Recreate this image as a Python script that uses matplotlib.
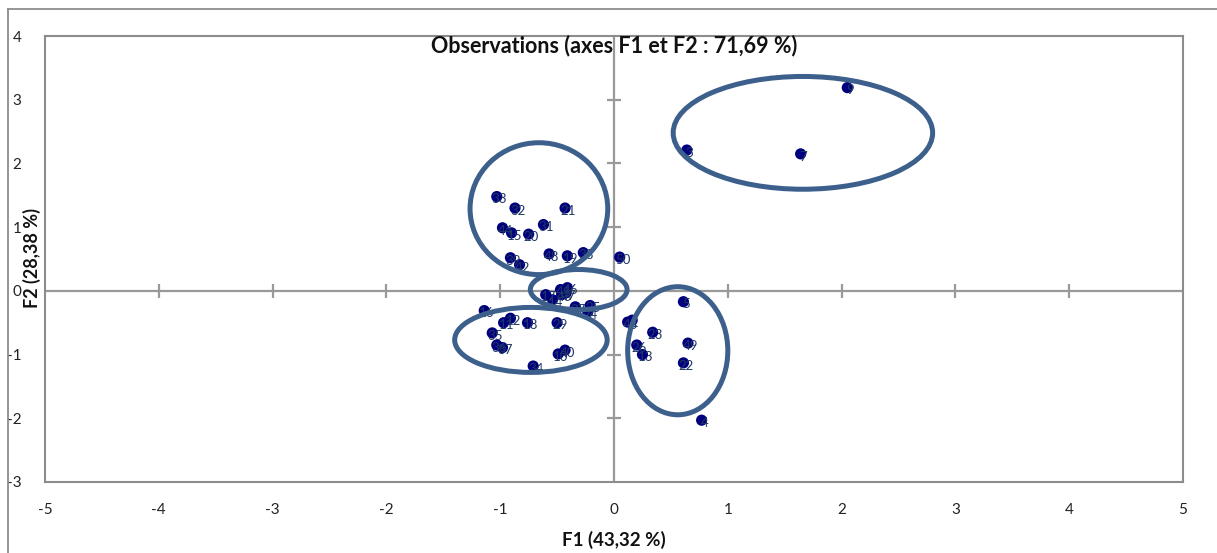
import matplotlib
matplotlib.use("Agg")
import matplotlib.pyplot as plt
from matplotlib.patches import Ellipse
from matplotlib.lines import Line2D

plt.rcParams['font.family'] = ['Lato', 'DejaVu Sans']

# ---- data ----
obs_x = [2.05, 0.64, 1.64,
         -1.03, -0.87, -0.43, -0.62, -0.98, -0.90, -0.75, -0.91, -0.83, -0.57, -0.41, -0.27, 0.05,
         -0.47, -0.41, -0.42, -0.46, -0.60, -0.54, -0.34, -0.21, -0.23,
         -1.14, -0.97, -0.91, -0.76, -0.50, -1.07, -1.03, -0.98, -0.49, -0.43, -0.71,
         0.61, 0.12, 0.16, 0.34, 0.65, 0.20, 0.25, 0.61, 0.77]
obs_y = [3.19, 2.21, 2.15,
         1.48, 1.30, 1.30, 1.04, 0.99, 0.91, 0.89, 0.52, 0.41, 0.58, 0.55, 0.60, 0.53,
         0.02, 0.05, -0.03, -0.06, -0.06, -0.14, -0.25, -0.23, -0.33,
         -0.31, -0.50, -0.43, -0.50, -0.50, -0.66, -0.85, -0.89, -0.99, -0.93, -1.18,
         -0.17, -0.49, -0.46, -0.65, -0.82, -0.85, -1.00, -1.13, -2.03]
obs_labels = ["9", "3", "7",
              "33", "32", "21", "31", "44", "15", "20", "39", "42", "48", "19", "38", "50",
              "41", "46", "47", "43", "17", "14", "27", "25", "24",
              "16", "11", "12", "18", "29", "35", "36", "37", "10", "40", "34",
              "5", "45", "1", "23", "49", "26", "13", "22", "4"]

# ellipses: center x, center y, width, height (data units)
ell_cx = [1.66, -0.66, -0.31, -0.73, 0.56]
ell_cy = [2.48, 1.29, 0.02, -0.77, -0.94]
ell_w = [2.28, 1.21, 0.85, 1.34, 0.88]
ell_h = [1.77, 2.07, 0.63, 1.02, 2.01]

xticks = [-5, -4, -3, -2, -1, 0, 1, 2, 3, 4, 5]
yticks = [-3, -2, -1, 0, 1, 2, 3, 4]

title = "Observations (axes F1 et F2 : 71,69 %)"
xlabel = "F1 (43,32 %)"
ylabel = "F2 (28,38 %)"

# ---- figure ----
W, H = 1217, 553
fig = plt.figure(figsize=(W / 100, H / 100), dpi=100)
ax = fig.add_axes([45 / W, 1 - 482 / H, (1183 - 45) / W, (482 - 36) / H])

gray = '#8c8c8c'
# outer chart frame
fig.add_artist(Line2D([8 / W, 8 / W], [-0.01, 1 - 9 / H], transform=fig.transFigure,
                      color=gray, lw=1.3))
fig.add_artist(Line2D([8 / W, 1.01], [1 - 9 / H, 1 - 9 / H], transform=fig.transFigure,
                      color=gray, lw=1.3))

ax.set_xlim(-5, 5)
ax.set_ylim(-3, 4)
for s in ax.spines.values():
    s.set_color(gray)
    s.set_linewidth(1.5)

ax.axhline(0, color='#999999', lw=1.6, zorder=1)
ax.axvline(0, color='#999999', lw=1.6, zorder=1)

# cross tick marks on the zero axes
tx = [t for t in xticks if t not in (-5, 0, 5)]
ty = [t for t in yticks if t not in (-3, 0, 4)]
ax.plot(tx, [0] * len(tx), ls='none', marker='|', ms=10, mew=1.6, color='#999999', zorder=1, clip_on=False)
ax.plot([0] * len(ty), ty, ls='none', marker='_', ms=10, mew=1.6, color='#999999', zorder=1, clip_on=False)

ax.set_xticks(xticks)
ax.set_yticks(yticks)
ax.set_xticklabels([str(t) for t in xticks])
ax.set_yticklabels([str(t) for t in yticks])
ax.tick_params(axis='x', length=0, pad=15, labelsize=11, colors='#222222')
ax.tick_params(axis='y', length=0, pad=17, labelsize=11, colors='#222222')

for cx, cy, w, h in zip(ell_cx, ell_cy, ell_w, ell_h):
    ax.add_patch(Ellipse((cx, cy), w, h, fill=False, edgecolor='#3c5f8c', lw=3.6, zorder=4))

ax.scatter(obs_x, obs_y, s=65, color='#00007f', zorder=3, edgecolors='none')
for x, y, lab in zip(obs_x, obs_y, obs_labels):
    ax.annotate(lab, (x, y), xytext=(2, -2), textcoords='offset points',
                ha='center', va='center', fontsize=9.5, color='#1f3864', zorder=3.5)

ax.text(0.5, 0.978, title, transform=ax.transAxes, ha='center', va='center',
        fontsize=15.5, fontweight='bold', color='#111111')
fig.text(614 / W, 1 - 540 / H, xlabel, ha='center', va='center', fontsize=13.5,
         fontweight='bold', color='#111111')
fig.text(32 / W, 1 - 258 / H, ylabel, ha='center', va='center', rotation=90,
         fontsize=13, fontweight='bold', color='#111111')

fig.savefig('out.png', dpi=100, facecolor='white')
